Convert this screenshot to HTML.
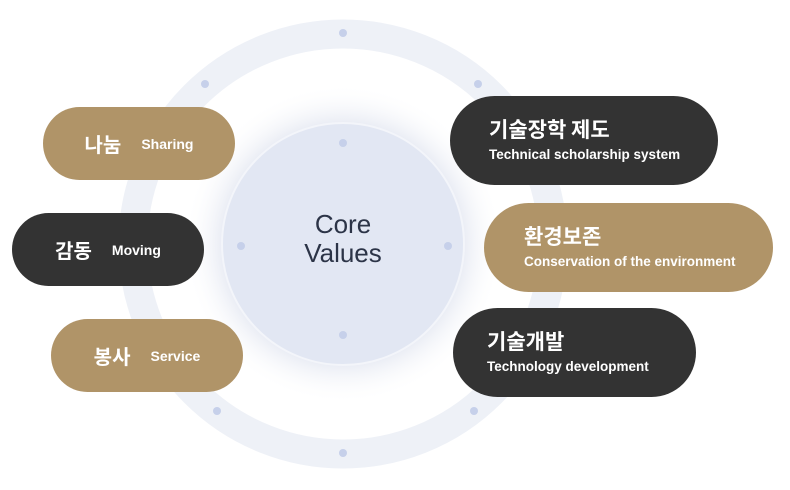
<!DOCTYPE html>
<html><head><meta charset="utf-8"><style>
html,body{margin:0;padding:0;background:#fff;width:790px;height:490px;overflow:hidden}
body{position:relative;font-family:"Liberation Sans","Noto Sans CJK KR",sans-serif}
.pill{position:absolute;border-radius:60px;color:#fff;box-sizing:border-box}
.g{background:#b09468}.d{background:#333333}
.l{display:flex;align-items:center;justify-content:center}
.l b{font-size:20px;font-weight:700;margin-right:20px;font-family:"Noto Sans CJK KR",sans-serif}
.l span{font-size:14px;font-weight:700;letter-spacing:0}
.r{padding-left:39px;padding-top:20px}
.r b{display:block;font-size:21px;font-weight:700;font-family:"Noto Sans CJK KR",sans-serif;line-height:26px}
.r span{display:block;font-size:13.5px;font-weight:700;letter-spacing:0;margin-top:5px}
</style></head><body>
<svg width="790" height="490" style="position:absolute;left:0;top:0">
<defs><radialGradient id="gl" cx="0.5" cy="0.5" r="0.5">
<stop offset="0.75" stop-color="#e9ecf4"/><stop offset="1" stop-color="#ffffff" stop-opacity="0"/></radialGradient></defs>
<circle cx="343" cy="244" r="210" fill="none" stroke="#eef1f7" stroke-width="29"/>
<circle cx="343" cy="244" r="160" fill="url(#gl)"/>
<circle cx="343" cy="244" r="121" fill="#e2e7f3" stroke="#f3f5fa" stroke-width="2"/>
<g fill="#c6d0ea">
<circle cx="343" cy="33" r="4"/><circle cx="205" cy="84" r="4"/><circle cx="478" cy="84" r="4"/>
<circle cx="217" cy="411" r="4"/><circle cx="474" cy="411" r="4"/><circle cx="343" cy="453" r="4"/>
<circle cx="343" cy="143" r="4"/><circle cx="241" cy="246" r="4"/><circle cx="448" cy="246" r="4"/><circle cx="343" cy="335" r="4"/>
</g>
<text x="343" y="233" text-anchor="middle" font-family="Liberation Sans,sans-serif" font-size="26" fill="#2c3447">Core</text>
<text x="343" y="262" text-anchor="middle" font-family="Liberation Sans,sans-serif" font-size="26" fill="#2c3447">Values</text>
</svg>
<div class="pill g l" style="left:43px;top:107px;width:192px;height:73px"><b>나눔</b><span>Sharing</span></div>
<div class="pill d l" style="left:12px;top:213px;width:192px;height:73px"><b>감동</b><span>Moving</span></div>
<div class="pill g l" style="left:51px;top:319px;width:192px;height:73px"><b>봉사</b><span>Service</span></div>
<div class="pill d r" style="left:450px;top:96px;width:268px;height:89px"><b>기술장학 제도</b><span>Technical scholarship system</span></div>
<div class="pill g r" style="left:484px;top:203px;width:289px;height:89px;padding-left:40px"><b>환경보존</b><span>Conservation of the environment</span></div>
<div class="pill d r" style="left:453px;top:308px;width:243px;height:89px;padding-left:34px"><b>기술개발</b><span>Technology development</span></div>
</body></html>
